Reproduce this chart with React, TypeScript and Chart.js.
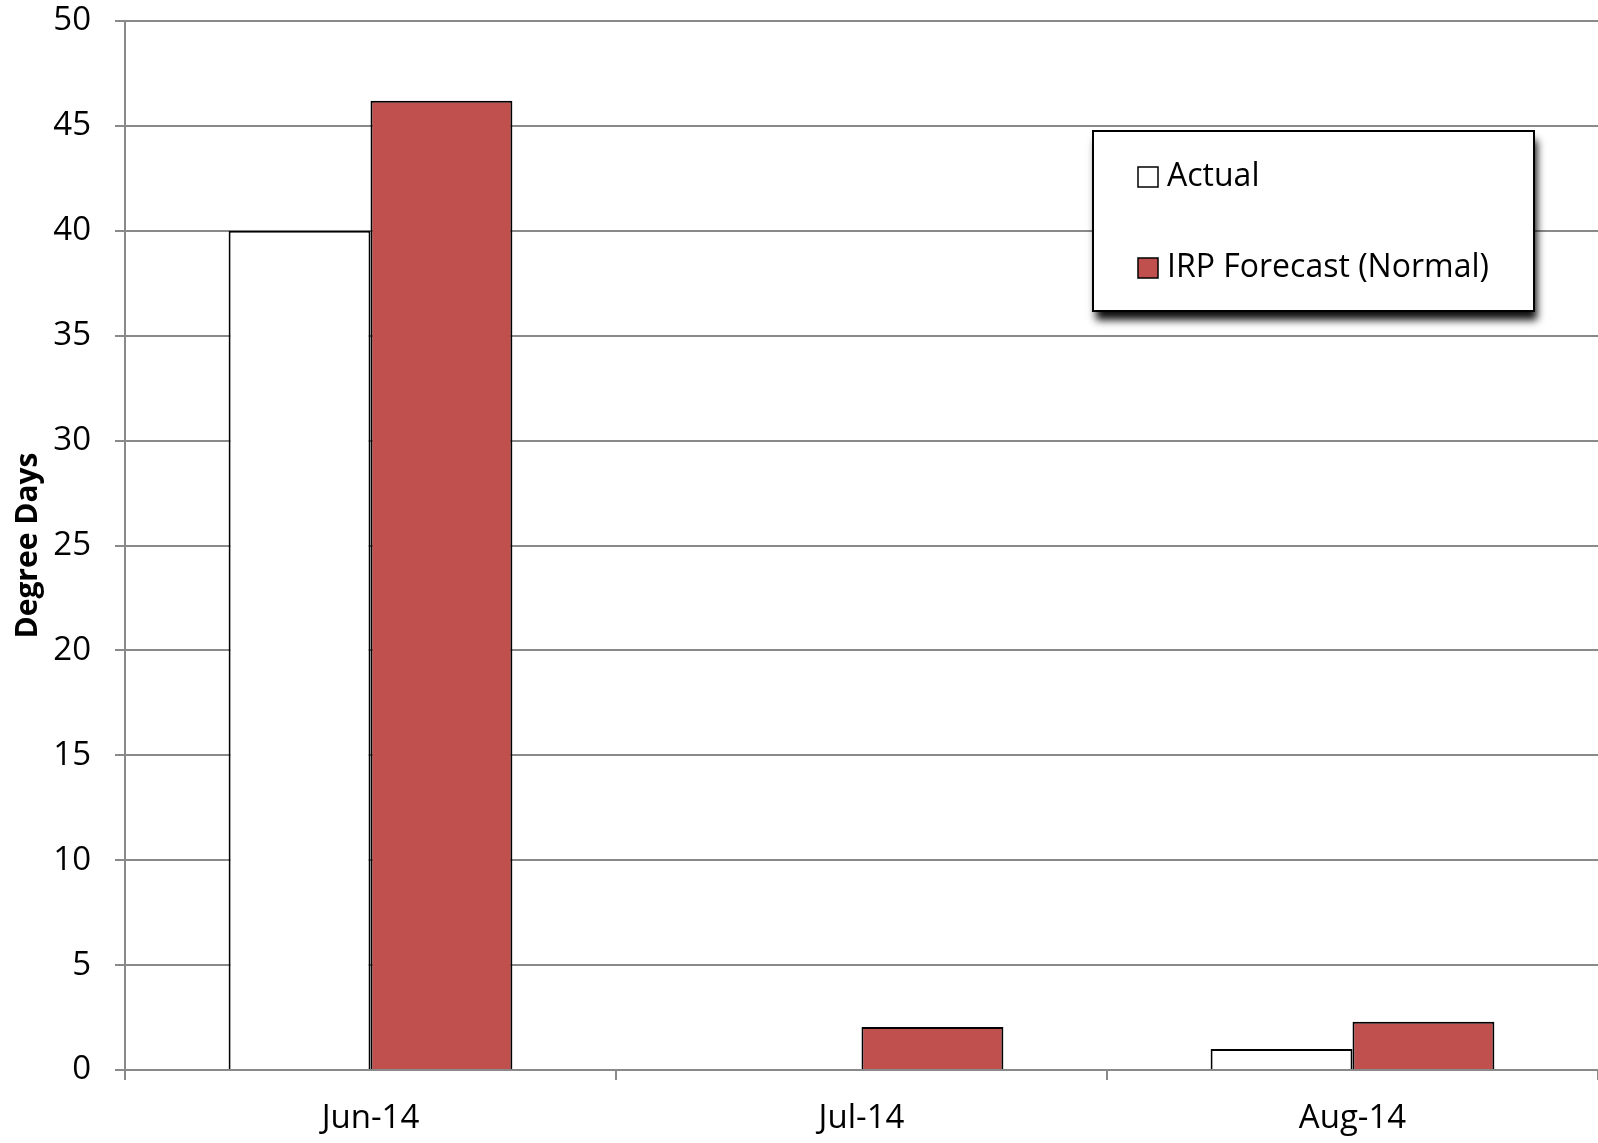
import React, { useEffect, useRef } from "react";
import { Chart, registerables } from "chart.js";

Chart.register(...registerables);

const categories = ["Jun-14", "Jul-14", "Aug-14"];
const actualValues = [40, 0, 1];
const forecastValues = [46.2, 2.05, 2.3];
const seriesNames = ["Actual", "IRP Forecast (Normal)"];
const yTicks = { min: 0, max: 50, step: 5 };
const yTitle = "Degree Days";

const FONT = "'Open Sans', 'DejaVu Sans', sans-serif";
const GRID = "#898989";
const RED = "#C0504D";

const legendPlugin = {
  id: "boxLegend",
  afterDraw(chart: any) {
    const ctx = chart.ctx as CanvasRenderingContext2D;
    const x = 1093, y = 131, w = 441, h = 180;
    ctx.save();
    ctx.shadowColor = "rgba(0,0,0,0.95)";
    ctx.shadowBlur = 8;
    ctx.shadowOffsetX = 3;
    ctx.shadowOffsetY = 9;
    ctx.fillStyle = "#ffffff";
    ctx.fillRect(x, y, w, h);
    ctx.restore();
    ctx.save();
    ctx.strokeStyle = "#000";
    ctx.lineWidth = 2;
    ctx.strokeRect(x, y, w, h);
    ctx.font = `32px ${FONT}`;
    ctx.textBaseline = "middle";
    chart.data.datasets.forEach((ds: any, i: number) => {
      const cy = 177 + i * 91;
      ctx.fillStyle = ds.backgroundColor;
      ctx.fillRect(1138, cy - 10, 20, 20);
      ctx.lineWidth = 1.5;
      ctx.strokeStyle = "#000";
      ctx.strokeRect(1138, cy - 10, 20, 20);
      ctx.fillStyle = "#000";
      ctx.fillText(ds.label, 1167, cy);
    });
    ctx.restore();
  },
};

export default function App() {
  const ref = useRef<HTMLCanvasElement>(null);
  useEffect(() => {
    document.body.style.margin = "0";
    const chart = new Chart(ref.current!, {
      type: "bar",
      data: {
        labels: categories,
        datasets: [
          {
            label: seriesNames[0],
            data: actualValues,
            backgroundColor: "#ffffff",
            borderColor: "#000000",
            borderWidth: 2,
          },
          {
            label: seriesNames[1],
            data: forecastValues,
            backgroundColor: RED,
            borderColor: "#000000",
            borderWidth: 2,
          },
        ],
      },
      plugins: [legendPlugin],
      options: {
        animation: false,
        responsive: false,
        maintainAspectRatio: false,
        layout: { padding: { top: 21, left: 0, right: 0, bottom: 0 } },
        plugins: { legend: { display: false }, tooltip: { enabled: false } },
        datasets: { bar: { categoryPercentage: 0.578, barPercentage: 1 } },
        scales: {
          x: {
            offset: true,
            grid: {
              offset: true,
              drawOnChartArea: false,
              drawTicks: true,
              tickLength: 10,
              color: GRID,
              lineWidth: 2,
            },
            border: { color: GRID, width: 2 },
            ticks: { color: "#000", font: { family: FONT, size: 33 }, padding: 19 },
            afterFit: (s: any) => {
              s.height = 73;
              s.paddingLeft = 0;
              s.paddingRight = 0;
            },
          },
          y: {
            min: yTicks.min,
            max: yTicks.max,
            ticks: {
              stepSize: yTicks.step,
              color: "#000",
              font: { family: FONT, size: 33 },
              padding: 24,
            },
            grid: { color: GRID, lineWidth: 2, tickLength: 10 },
            border: { color: GRID, width: 2 },
            title: {
              display: true,
              text: yTitle,
              color: "#000",
              font: { family: FONT, size: 30, weight: "bold" },
              padding: { top: 10, bottom: 0 },
            },
            afterFit: (s: any) => {
              s.width = 125;
              s.paddingTop = 0;
              s.paddingBottom = 0;
            },
          },
        },
      },
    });
    return () => chart.destroy();
  }, []);
  return (
    <div style={{ width: 1598, height: 1143 }}>
      <canvas ref={ref} width={1598} height={1143} style={{ display: "block" }} />
    </div>
  );
}
